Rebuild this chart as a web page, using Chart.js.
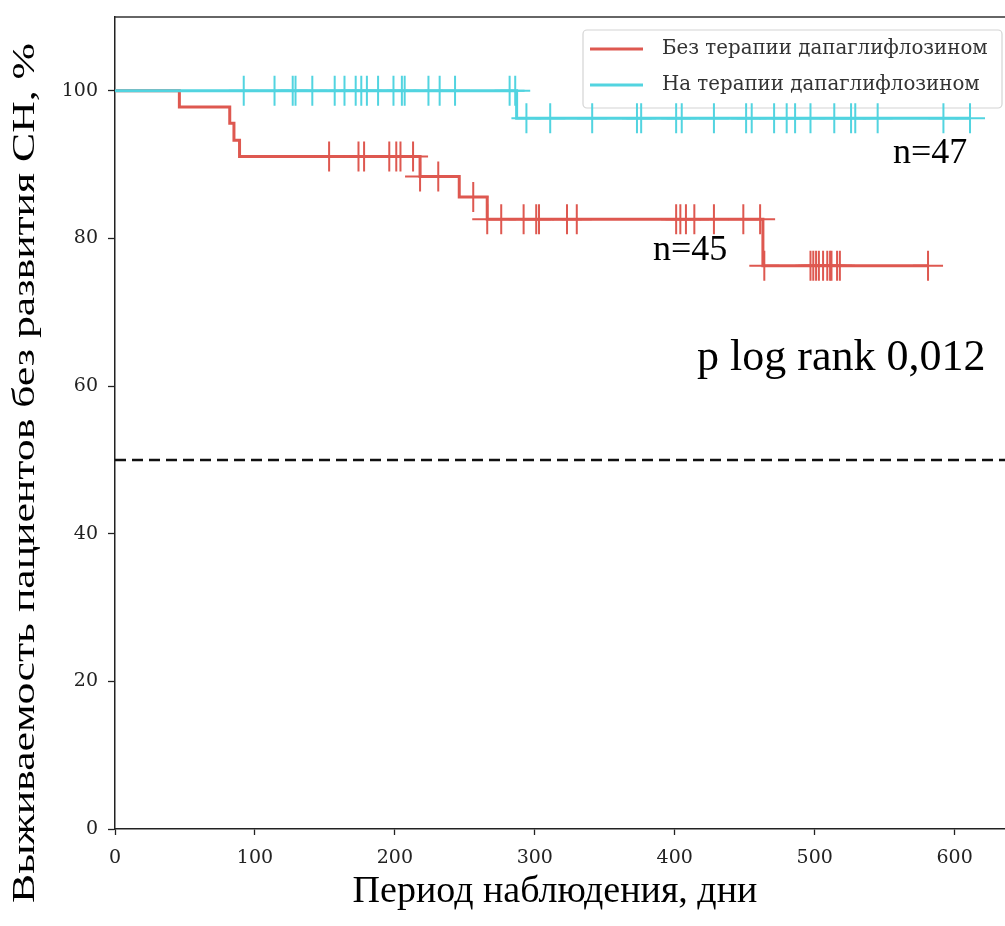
<!DOCTYPE html>
<html>
<head>
<meta charset="utf-8">
<script src="https://cdn.jsdelivr.net/npm/chart.js@4.4.0/dist/chart.umd.min.js"></script>
<style>
  html, body { margin: 0; background: #fff; overflow: hidden; }
  canvas { display: block; }
</style>
</head>
<body>
<!-- a bit wider than the window: the right frame edge is cut off in the original -->
<canvas id="kmChart" width="1022" height="926"></canvas>
<script>
// Kaplan-Meier steps (day, % without HF)
const noDapaDays = [0, 46, 82, 85, 89, 218, 246, 266, 463, 581];
const noDapaSurv = [100, 97.8, 95.6, 93.3, 91.1, 88.4, 85.6, 82.6, 76.3, 76.3];
const noDapaCensored = [153, 174, 178, 196, 201, 204, 213, 218, 231, 256, 266, 276, 292, 301, 303,
  323, 330, 401, 404, 408, 414, 428, 449, 461, 464, 497, 499, 501, 503, 506, 509, 511, 512, 516, 518, 581];

const dapaDays = [0, 287, 611];
const dapaSurv = [100, 96.3, 96.3];
const dapaCensored = [92, 114, 127, 129, 141, 157, 164, 172, 176, 180, 188, 199, 205, 207, 224, 232, 243,
  282, 286, 294, 311, 341, 373, 376, 401, 405, 428, 451, 455, 471, 480, 486, 497, 514, 526, 529, 545, 592, 611];

const seriesLabels = ["Без терапии дапаглифлозином", "На терапии дапаглифлозином"];
const refLineDays = [0, 636];
const refLineValues = [50, 50];
const xTicks = [0, 100, 200, 300, 400, 500, 600];
const yTicks = [0, 20, 40, 60, 80, 100];

const RED = "#de5850";
const TEAL = "#52d4e0";

// survival level at a given day (for placing censor marks on the curve)
function levelAt(days, surv, t) {
  let level = surv[0];
  for (let i = 0; i < days.length; i++) {
    if (days[i] <= t) level = surv[i];
  }
  return level;
}

const toPoints = (xs, ys) => xs.map((x, i) => ({ x: x, y: ys[i] }));
const censorPoints = (days, surv, cens) => cens.map((t) => ({ x: t, y: levelAt(days, surv, t) }));

// legend box drawn under the curves, like the matplotlib one
const legendBox = {
  id: "legendBox",
  beforeDatasetsDraw(chart) {
    const ctx = chart.ctx;
    const items = chart.data.datasets.filter((d) => d.inLegend);
    ctx.save();
    ctx.beginPath();
    ctx.roundRect(583, 30, 419, 78, 4);
    ctx.fillStyle = "rgba(255,255,255,0.85)";
    ctx.fill();
    ctx.strokeStyle = "#d4d4d4";
    ctx.lineWidth = 1.2;
    ctx.stroke();
    ctx.font = "19.8px 'DejaVu Serif'";
    ctx.textBaseline = "middle";
    items.forEach((d, i) => {
      const y = 49 + i * 36;
      ctx.strokeStyle = d.borderColor;
      ctx.lineWidth = 3;
      ctx.beginPath();
      ctx.moveTo(590, y);
      ctx.lineTo(643, y);
      ctx.stroke();
      ctx.fillStyle = "#333";
      ctx.fillText(d.label, 662, y);
    });
    ctx.restore();
  },
};

const textLayer = {
  id: "textLayer",
  afterDraw(chart) {
    const ctx = chart.ctx;
    const area = chart.chartArea;
    ctx.save();
    // top frame line
    ctx.strokeStyle = "#333";
    ctx.lineWidth = 1.5;
    ctx.beginPath();
    ctx.moveTo(area.left, area.top);
    ctx.lineTo(area.right, area.top);
    ctx.stroke();

    ctx.fillStyle = "#000";
    ctx.textBaseline = "alphabetic";
    ctx.font = "36px 'Liberation Serif'";
    ctx.fillText("n=47", 893, 163);
    ctx.fillText("n=45", 653, 260);
    ctx.font = "44px 'Liberation Serif'";
    ctx.fillText("p log rank 0,012", 697, 370);

    ctx.font = "38px 'Liberation Serif'";
    ctx.textAlign = "center";
    ctx.fillText("Период наблюдения, дни", 555, 902);

    // y title is stretched along its length in the original
    const yTitle = "Выживаемость пациентов без развития СН, %";
    ctx.font = "31px 'Liberation Serif'";
    const w = ctx.measureText(yTitle).width;
    ctx.translate(34, 473);
    ctx.rotate(-Math.PI / 2);
    ctx.scale(860 / w, 1);
    ctx.fillText(yTitle, 0, 0);
    ctx.restore();
  },
};

const ctx = document.getElementById("kmChart").getContext("2d");
new Chart(ctx, {
  type: "scatter",
  data: {
    datasets: [
      {
        label: seriesLabels[0],
        inLegend: true,
        type: "line",
        order: 2,
        data: toPoints(noDapaDays, noDapaSurv),
        borderColor: RED,
        borderWidth: 3,
        stepped: true,
        pointRadius: 0,
        fill: false,
      },
      {
        label: seriesLabels[1],
        inLegend: true,
        type: "line",
        order: 1,
        data: toPoints(dapaDays, dapaSurv),
        borderColor: TEAL,
        borderWidth: 3,
        stepped: true,
        pointRadius: 0,
        fill: false,
      },
      {
        label: "censored 1",
        order: 0,
        data: censorPoints(noDapaDays, noDapaSurv, noDapaCensored),
        pointStyle: "cross",
        pointRadius: 15,
        borderColor: RED,
        borderWidth: 2,
      },
      {
        label: "censored 2",
        order: 0,
        data: censorPoints(dapaDays, dapaSurv, dapaCensored),
        pointStyle: "cross",
        pointRadius: 15,
        borderColor: TEAL,
        borderWidth: 2,
      },
      {
        label: "median",
        type: "line",
        order: 3,
        data: toPoints(refLineDays, refLineValues),
        borderColor: "#111",
        borderWidth: 2.5,
        borderDash: [11, 6],
        pointRadius: 0,
      },
    ],
  },
  options: {
    responsive: false,
    animation: false,
    layout: { padding: { left: 0, right: 0, top: 17, bottom: 0 } },
    plugins: {
      legend: { display: false },
      tooltip: { enabled: false },
    },
    scales: {
      x: {
        type: "linear",
        min: 0,
        max: 636,
        afterBuildTicks: (s) => { s.ticks = xTicks.map((v) => ({ value: v })); },
        afterFit: (s) => { s.height = 97; },
        ticks: {
          font: { family: "DejaVu Serif", size: 19 },
          color: "#222",
          padding: 12,
          maxRotation: 0,
        },
        grid: { drawOnChartArea: false, tickLength: 6, color: "#222", tickWidth: 1.3 },
        border: { color: "#222", width: 1.5 },
      },
      y: {
        min: 0,
        max: 110,
        afterBuildTicks: (s) => { s.ticks = yTicks.map((v) => ({ value: v })); },
        afterFit: (s) => { s.width = 115; s.paddingTop = 0; s.paddingBottom = 0; },
        ticks: {
          font: { family: "DejaVu Serif", size: 19 },
          color: "#222",
          padding: 10,
        },
        grid: { drawOnChartArea: false, tickLength: 7, color: "#222", tickWidth: 1.3 },
        border: { color: "#222", width: 1.5 },
      },
    },
  },
  plugins: [legendBox, textLayer],
});
</script>
</body>
</html>
